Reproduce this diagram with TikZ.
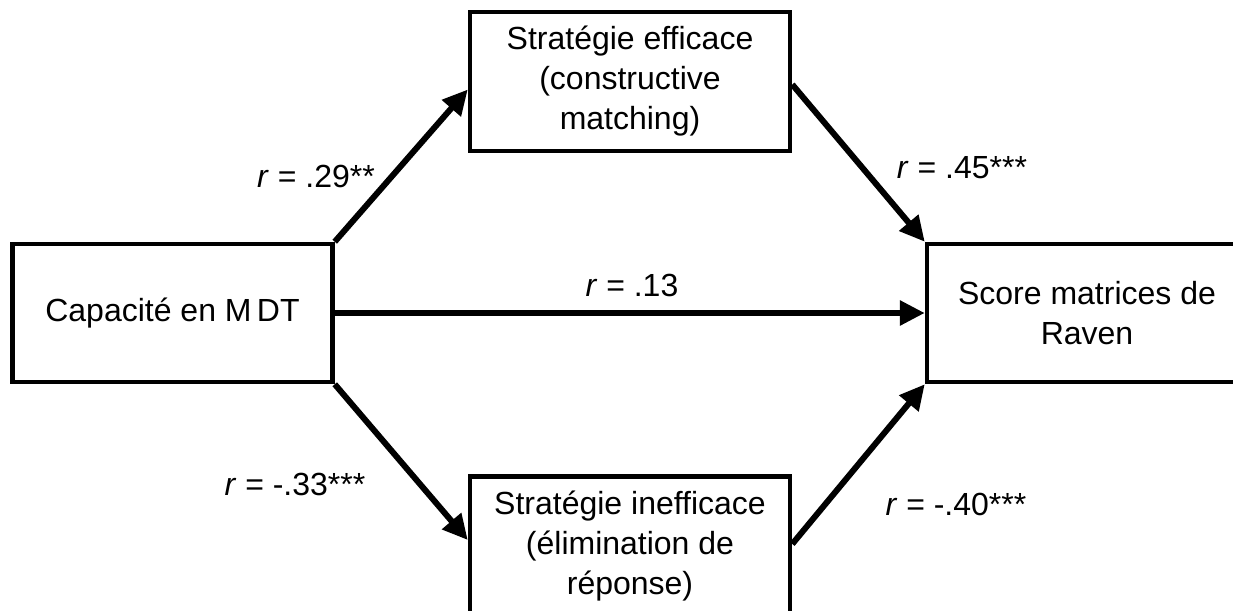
\documentclass[tikz,border=0pt]{standalone}
\usepackage{fontspec}
\setmainfont{Liberation Sans}
\usetikzlibrary{arrows.meta}
\begin{document}
\begin{tikzpicture}[x=1pt,y=-1pt,
  box/.style={draw=black,line width=4.5pt,fill=white,minimum width=320pt,minimum height=138pt,inner sep=0pt,align=center,font=\fontsize{32}{40}\selectfont},
  conn/.style={line width=6pt,-{Triangle[length=25pt,width=24pt]}},
  lbl/.style={anchor=base,inner sep=0pt,font=\fontsize{32}{40}\selectfont}]
\useasboundingbox (0,0) rectangle (1233,610);
\clip (0,0) rectangle (1233,610);
\node[box] (mdt) at (172.5,313) {Capacité en M\,DT};
\node[box,minimum height=139pt] (eff) at (630,81.5) {Stratégie efficace\\(constructive\\matching)};
\node[box,minimum height=139pt] (ineff) at (630,546) {Stratégie inefficace\\(élimination de\\réponse)};
\node[box] (raven) at (1087,313) {Score matrices de\\Raven};
\draw[conn] (mdt.north east) -- ([yshift=-8pt]eff.west);
\draw[conn] ([yshift=-3pt]eff.east) -- (raven.north west);
\draw[conn] (mdt.east) -- (raven.west);
\draw[conn] (mdt.south east) -- ([yshift=6pt]ineff.west);
\draw[conn] ([yshift=2pt]ineff.east) -- (raven.south west);
\node[lbl] (l1) at (316,187) {\textit{r} = .29**};
\node[lbl] (l2) at (962,178) {\textit{r} = .45***};
\node[lbl] (l3) at (632,296) {\textit{r} = .13};
\node[lbl] (l4) at (295,495) {\textit{r} = -.33***};
\node[lbl] (l5) at (956,515) {\textit{r} = -.40***};
\end{tikzpicture}
\end{document}
